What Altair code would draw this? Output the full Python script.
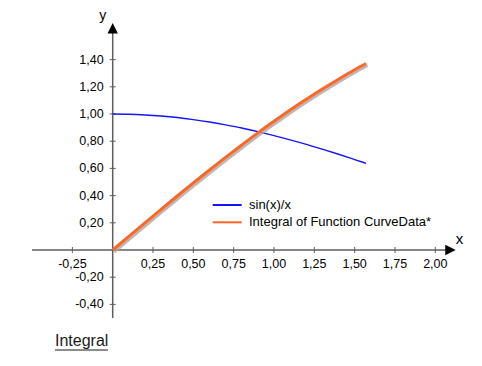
import altair as alt
import pandas as pd

# ---- data ----
curve_x = [0.0, 0.1, 0.2, 0.3, 0.4, 0.5, 0.6, 0.7, 0.8, 0.9, 1.0, 1.1, 1.2, 1.3, 1.4, 1.5, 1.5708]
sinc_y = [1.000, 0.998, 0.993, 0.985, 0.974, 0.959, 0.941, 0.920, 0.897, 0.870, 0.841, 0.810, 0.777, 0.741, 0.704, 0.665, 0.637]
integral_y = [0.000, 0.100, 0.200, 0.299, 0.397, 0.493, 0.588, 0.681, 0.772, 0.861, 0.946, 1.029, 1.108, 1.184, 1.256, 1.325, 1.371]
series_names = ["sin(x)/x", "Integral of Function CurveData*"]
series_colors = ["#1414ff", "#ff6624"]

x_ticks = [-0.25, 0.25, 0.5, 0.75, 1.0, 1.25, 1.5, 1.75, 2.0]
x_tick_labels = ["-0,25", "0,25", "0,50", "0,75", "1,00", "1,25", "1,50", "1,75", "2,00"]
y_ticks = [-0.4, -0.2, 0.2, 0.4, 0.6, 0.8, 1.0, 1.2, 1.4]
y_tick_labels = ["-0,40", "-0,20", "0,20", "0,40", "0,60", "0,80", "1,00", "1,20", "1,40"]

axis_x_range = [-0.5, 2.08]
axis_y_range = [-0.5, 1.62]
x_arrow_at = 2.094
y_arrow_at = 1.631

# ---- layout ----
W, H = 460, 345
XMIN, XMAX = -0.6491, 2.2027
YMIN, YMAX = -0.7574, 1.7794
xs = alt.Scale(domain=[XMIN, XMAX], nice=False, zero=False)
ys = alt.Scale(domain=[YMIN, YMAX], nice=False, zero=False)
AX = "#5e5e5e"
TICK_FONT = "Liberation Sans"

integral_df = pd.DataFrame({"x": curve_x, "y": integral_y})
sinc_df = pd.DataFrame({"x": curve_x, "y": sinc_y})

xt = pd.DataFrame({"v": x_ticks, "label": x_tick_labels, "z": 0.0})
yt = pd.DataFrame({"v": y_ticks, "label": y_tick_labels, "z": 0.0})

axes_df = pd.DataFrame({
    "x": [axis_x_range[0], 0.0], "x2": [axis_x_range[1], 0.0],
    "y": [0.0, axis_y_range[0]], "y2": [0.0, axis_y_range[1]],
})


def X(f):
    return alt.X(f, scale=xs, axis=None)


def Y(f):
    return alt.Y(f, scale=ys, axis=None)


axis_lines = alt.Chart(axes_df).mark_rule(color=AX, strokeWidth=1.5).encode(
    x=X("x:Q"), x2="x2:Q", y=Y("y:Q"), y2="y2:Q",
)

x_arrow = alt.Chart(pd.DataFrame({"x": [x_arrow_at], "y": [0.0]})).mark_point(
    shape="M1,0 L-1,1 L-1,-1 Z", filled=True, size=108, color="#000000", opacity=1
).encode(x=X("x:Q"), y=Y("y:Q"))

y_arrow = alt.Chart(pd.DataFrame({"x": [0.0], "y": [y_arrow_at]})).mark_point(
    shape="M0,-1 L1,1 L-1,1 Z", filled=True, size=108, color="#000000", opacity=1
).encode(x=X("x:Q"), y=Y("y:Q"))

x_tick_marks = alt.Chart(xt).mark_point(
    shape="M0,-1 L0,1", filled=False, size=36, color=AX, strokeWidth=1, opacity=1
).encode(x=X("v:Q"), y=Y("z:Q"))

y_tick_marks = alt.Chart(yt).mark_point(
    shape="M-1,0 L1,0", filled=False, size=36, color=AX, strokeWidth=1, opacity=1
).encode(x=X("z:Q"), y=Y("v:Q"))

x_tick_text = alt.Chart(xt).mark_text(
    font=TICK_FONT, fontSize=12.5, color="#000000", align="center", baseline="alphabetic", dy=18
).encode(x=X("v:Q"), y=Y("z:Q"), text="label:N")

y_tick_text = alt.Chart(yt).mark_text(
    font=TICK_FONT, fontSize=12.5, color="#000000", align="right", baseline="middle", dx=-9
).encode(x=X("z:Q"), y=Y("v:Q"), text="label:N")

y_title = alt.Chart(pd.DataFrame({"x": [0.0], "y": [y_arrow_at], "t": ["y"]})).mark_text(
    font="Liberation Sans", fontSize=14, color="#000000", align="center", baseline="alphabetic", dx=-10, dy=-8
).encode(x=X("x:Q"), y=Y("y:Q"), text="t:N")
x_title = alt.Chart(pd.DataFrame({"x": [x_arrow_at], "y": [0.0], "t": ["x"]})).mark_text(
    font="Liberation Sans", fontSize=15, color="#000000", align="center", baseline="alphabetic", dx=9, dy=-6
).encode(x=X("x:Q"), y=Y("y:Q"), text="t:N")

sinc_line = alt.Chart(sinc_df).mark_line(color=series_colors[0], strokeWidth=1.4, interpolate="monotone").encode(
    x=X("x:Q"), y=Y("y:Q"))

shadow = alt.Chart(integral_df).mark_line(color="#a8a8a8", strokeWidth=3, xOffset=1.5, yOffset=2,
                                          opacity=0.8, interpolate="monotone").encode(
    x=X("x:Q"), y=Y("y:Q"))

integral_line = alt.Chart(integral_df).mark_line(color=series_colors[1], strokeWidth=3, interpolate="monotone").encode(
    x=X("x:Q"), y=Y("y:Q"))

legend_df = pd.DataFrame({"name": series_names, "color": series_colors, "idx": [0, 1]})
legend_rules = alt.Chart(legend_df).transform_calculate(ly="197 + 17.3*datum.idx").mark_rule(strokeWidth=2).encode(
    x=alt.value(204.7), x2=alt.value(233.7),
    y=alt.Y("ly:Q", scale=None),
    color=alt.Color("color:N", scale=None, legend=None),
)
legend_text = alt.Chart(legend_df).transform_calculate(ly="197 + 17.3*datum.idx").mark_text(
    font="Liberation Sans", fontSize=13, color="#000000", align="left", baseline="middle"
).encode(x=alt.value(241), y=alt.Y("ly:Q", scale=None), text="name:N")

caption = alt.Chart(pd.DataFrame({"t": ["Integral"]})).mark_text(
    font="Liberation Sans", fontSize=16, color="#1a1a1a", align="left", baseline="alphabetic"
).encode(x=alt.value(47), y=alt.value(338), text="t:N")
caption_underline = alt.Chart(pd.DataFrame({"t": ["Integral"]})).mark_rule(color="#1a1a1a", strokeWidth=1).encode(
    x=alt.value(47), x2=alt.value(100), y=alt.value(342))

chart = alt.layer(
    axis_lines, x_tick_marks, y_tick_marks, x_arrow, y_arrow,
    x_tick_text, y_tick_text, y_title, x_title,
    sinc_line, shadow, integral_line,
    legend_rules, legend_text, caption, caption_underline,
).properties(
    width=W, height=H, padding=0, autosize=alt.AutoSizeParams(type="none"), background="white"
).configure_view(stroke=None)

chart.save("out.html", embed_options={"renderer": "svg", "actions": False})
